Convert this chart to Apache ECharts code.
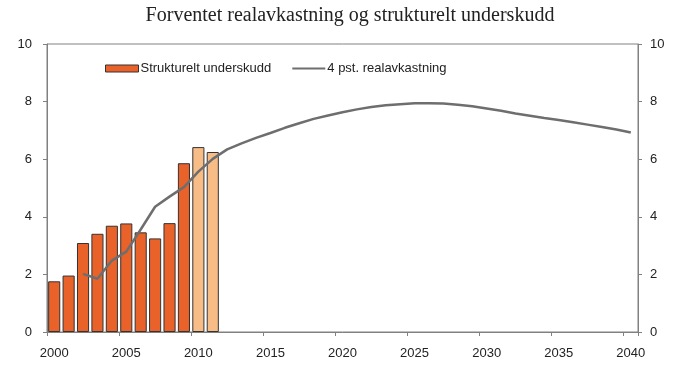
<!DOCTYPE html>
<html>
<head>
<meta charset="utf-8">
<script src="https://cdn.jsdelivr.net/npm/echarts@6/dist/echarts.min.js"></script>
<style>html,body{margin:0;padding:0;background:#fff}#c{width:700px;height:375px}</style>
</head>
<body>
<div id="c"></div>
<script>
var years = [];
for (var y = 2000; y <= 2040; y++) years.push(String(y));
var titleText = 'Forventet realavkastning og strukturelt underskudd';
var barName = 'Strukturelt underskudd';
var lineName = '4 pst. realavkastning';
var deficit = [1.76, 1.96, 3.09, 3.41, 3.69, 3.77, 3.46, 3.25, 3.78, 5.86, 6.42, 6.25];
var deficitEstimateFrom = 10;
var returns = [null, null, 2.02, 1.85, 2.48, 2.79, 3.56, 4.35, 4.70, 5.03, 5.57, 6.01, 6.34, 6.55,
  6.74, 6.91, 7.09, 7.25, 7.40, 7.52, 7.63, 7.73, 7.81, 7.87, 7.91, 7.94, 7.94, 7.93, 7.89, 7.84,
  7.76, 7.68, 7.59, 7.51, 7.43, 7.36, 7.28, 7.20, 7.12, 7.03, 6.93];
var yTicks = [0, 2, 4, 6, 8, 10];

var chart = echarts.init(document.getElementById('c'));
var axisCol = '#808080';
var txt = '#222';
var font = 'Liberation Sans';
var barData = deficit.map(function (v, i) {
  return i >= deficitEstimateFrom ? {value: v, itemStyle: {color: '#F8BD86'}} : v;
});
function yAxis(pos, margin) {
  return {
    type: 'value', position: pos, min: yTicks[0], max: yTicks[yTicks.length - 1], interval: 2,
    axisLine: {show: true, lineStyle: {color: axisCol, width: 1}},
    axisTick: {show: true, length: 4, lineStyle: {color: axisCol}},
    axisLabel: {color: txt, fontSize: 13, fontFamily: font, margin: margin},
    splitLine: {show: false}
  };
}
chart.setOption({
  animation: false,
  title: {text: titleText, left: 'center', top: 1,
    textStyle: {fontFamily: 'Liberation Serif', fontWeight: 'normal', fontSize: 20, color: txt}},
  legend: {
    top: 57, left: 100, itemWidth: 33, itemHeight: 7, itemGap: 20,
    textStyle: {fontFamily: font, fontSize: 13, color: txt, padding: [0, 0, 0, -3]},
    data: [
      {name: barName, icon: 'rect', itemStyle: {color: '#E8622A', borderColor: '#333', borderWidth: 1}},
      {name: lineName, itemStyle: {opacity: 0}}
    ]
  },
  grid: {left: 47, right: 62, top: 44, bottom: 43, show: true, borderColor: axisCol, borderWidth: 1},
  xAxis: {
    type: 'category', data: years, boundaryGap: true,
    axisLine: {lineStyle: {color: axisCol}},
    axisTick: {show: true, interval: 4, alignWithLabel: false, length: 4, lineStyle: {color: axisCol}},
    axisLabel: {interval: 4, color: txt, fontSize: 13, fontFamily: font, margin: 15}
  },
  yAxis: [yAxis('left', 15), yAxis('right', 12)],
  series: [
    {name: barName, type: 'bar', data: barData, barCategoryGap: '16%',
      itemStyle: {color: '#E8622A', borderColor: '#333', borderWidth: 1}},
    {name: lineName, type: 'line', data: returns, symbol: 'none', smooth: false,
      lineStyle: {color: '#6e6e6e', width: 2.5}, itemStyle: {color: '#6e6e6e'}}
  ]
});
</script>
</body>
</html>
